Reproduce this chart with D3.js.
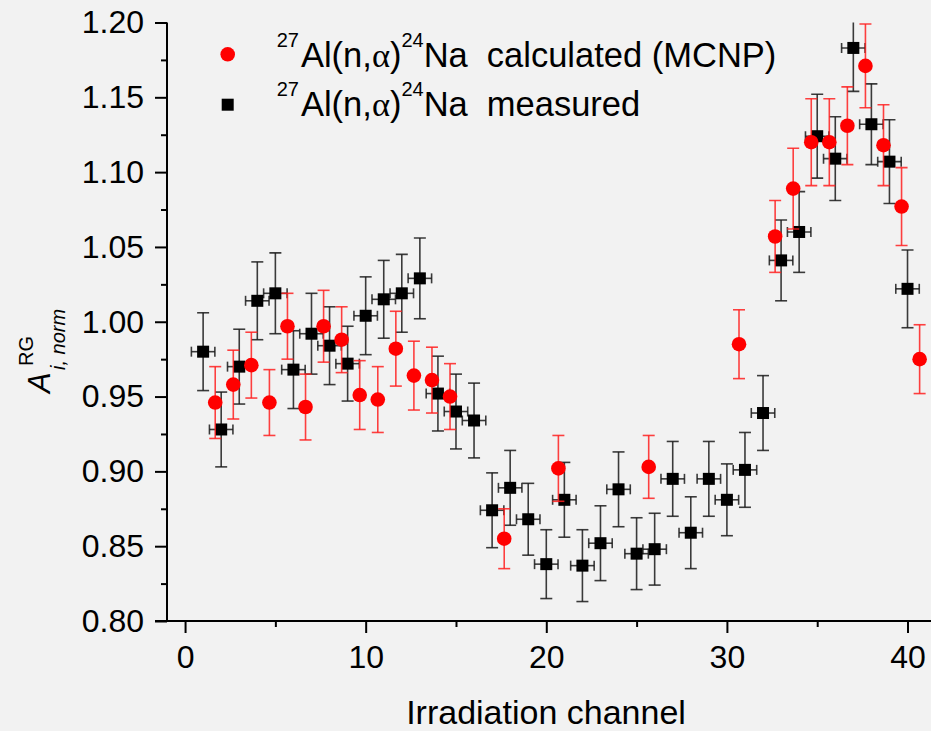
<!DOCTYPE html>
<html>
<head>
<meta charset="utf-8">
<script src="https://cdn.jsdelivr.net/npm/d3@7"></script>
<style>
  body { margin: 0; background: #f2f2f2; }
  svg { display: block; font-family: "Liberation Sans", Arial, sans-serif; }
</style>
</head>
<body>
<div id="chart"></div>
<script>
// measured 27Al(n,a)24Na activity per irradiation channel
var measCh  = [1,2,3,4,5,6,7,8,9,10,11,12,13,14,15,16,17,18,19,20,
               21,22,23,24,25,26,27,28,29,30,31,32,33,34,35,36,37,38,39,40];
var measVal = [0.980,0.928,0.970,1.014,1.019,0.968,0.992,0.984,0.972,1.004,
               1.015,1.019,1.029,0.952,0.940,0.934,0.874,0.889,0.868,0.838,
               0.881,0.837,0.852,0.888,0.845,0.848,0.895,0.859,0.895,0.881,
               0.901,0.939,1.041,1.060,1.124,1.109,1.183,1.132,1.107,1.022];
var measErr = [0.026,0.025,0.025,0.026,0.027,0.026,0.027,0.026,0.025,0.026,
               0.026,0.026,0.027,0.025,0.025,0.025,0.025,0.025,0.024,0.023,
               0.025,0.024,0.025,0.025,0.024,0.024,0.025,0.024,0.025,0.024,
               0.025,0.025,0.027,0.027,0.028,0.028,0.029,0.027,0.028,0.026];
var measXErr = 0.65;

// calculated (MCNP)
var calcCh  = [1.67,2.67,3.67,4.67,5.67,6.67,7.67,8.67,9.67,10.67,11.67,12.67,13.67,14.67,
               17.67,20.67,25.67,30.67,32.67,33.67,34.67,35.67,36.67,37.67,38.67,39.67,40.67];
var calcVal = [0.946,0.958,0.971,0.946,0.997,0.943,0.997,0.988,0.951,0.948,0.982,0.964,0.961,0.950,
               0.855,0.902,0.903,0.985,1.057,1.089,1.120,1.120,1.131,1.171,1.118,1.077,0.975];
var calcErr = [0.024,0.023,0.022,0.022,0.022,0.022,0.024,0.022,0.023,0.022,0.025,0.023,0.022,0.022,
               0.020,0.022,0.021,0.023,0.024,0.027,0.029,0.029,0.026,0.028,0.027,0.026,0.023];

var xTicks = [0,10,20,30,40];
var xMinor = [5,15,25,35];
var yTicks = [0.80,0.85,0.90,0.95,1.00,1.05,1.10,1.15,1.20];
var yMinor = [0.825,0.875,0.925,0.975,1.025,1.075,1.125,1.175];

var W = 931, H = 731;
var x = d3.scaleLinear().domain([-1, 41.3]).range([167, 931]);
var y = d3.scaleLinear().domain([0.80, 1.20]).range([621, 22.5]);

var svg = d3.select("#chart").append("svg").attr("width", W).attr("height", H);
svg.append("rect").attr("width", W).attr("height", H).attr("fill", "#f2f2f2");

svg.append("clipPath").attr("id", "plotclip").append("rect")
    .attr("x", x.range()[0]).attr("y", y.range()[1])
    .attr("width", x.range()[1] - x.range()[0])
    .attr("height", y.range()[0] - y.range()[1]);

// axes
function styleAxis(g) {
    g.select(".domain").remove();
    g.selectAll(".tick line").attr("stroke", "#000").attr("stroke-width", 2);
    g.selectAll(".tick text").attr("fill", "#000").attr("font-size", 32)
        .attr("font-family", "'Liberation Sans', Arial, sans-serif");
}
var y0 = y.range()[0];
svg.append("g").attr("transform", "translate(0," + y0 + ")")
    .call(d3.axisBottom(x).tickValues(xMinor).tickSize(6).tickFormat(""))
    .call(styleAxis);
svg.append("g").attr("transform", "translate(0," + y0 + ")")
    .call(d3.axisBottom(x).tickValues(xTicks).tickSize(12).tickPadding(12).tickFormat(d3.format("d")))
    .call(styleAxis);
var x0 = x.range()[0];
svg.append("g").attr("transform", "translate(" + x0 + ",0)")
    .call(d3.axisLeft(y).tickValues(yMinor).tickSize(6).tickFormat(""))
    .call(styleAxis);
svg.append("g").attr("transform", "translate(" + x0 + ",0)")
    .call(d3.axisLeft(y).tickValues(yTicks).tickSize(12).tickPadding(11).tickFormat(d3.format(".2f")))
    .call(styleAxis);
svg.append("line").attr("x1", x0 - 12).attr("x2", x.range()[1]).attr("y1", y0).attr("y2", y0)
    .attr("stroke", "#000").attr("stroke-width", 2);
svg.append("line").attr("x1", x0).attr("x2", x0).attr("y1", y.range()[1]).attr("y2", y0)
    .attr("stroke", "#000").attr("stroke-width", 2);

// data
var plot = svg.append("g").attr("clip-path", "url(#plotclip)");
var meas = measCh.map(function(c, i) { return {x: c, v: measVal[i], e: measErr[i]}; });
var calc = calcCh.map(function(c, i) { return {x: c, v: calcVal[i], e: calcErr[i]}; });

function errBars(g, data, color, withX) {
    var eb = g.selectAll(null).data(data).enter().append("g")
        .attr("stroke", color).attr("stroke-width", 1.6).attr("stroke-opacity", 0.85);
    eb.append("line")
        .attr("x1", function(d) { return x(d.x); }).attr("x2", function(d) { return x(d.x); })
        .attr("y1", function(d) { return y(d.v - d.e); }).attr("y2", function(d) { return y(d.v + d.e); });
    [-1, 1].forEach(function(s) {
        eb.append("line")
            .attr("x1", function(d) { return x(d.x) - 6; }).attr("x2", function(d) { return x(d.x) + 6; })
            .attr("y1", function(d) { return y(d.v + s * d.e); }).attr("y2", function(d) { return y(d.v + s * d.e); });
    });
    if (!withX) return;
    eb.append("line")
        .attr("x1", function(d) { return x(d.x - measXErr); }).attr("x2", function(d) { return x(d.x + measXErr); })
        .attr("y1", function(d) { return y(d.v); }).attr("y2", function(d) { return y(d.v); });
    [-1, 1].forEach(function(s) {
        eb.append("line")
            .attr("x1", function(d) { return x(d.x + s * measXErr); }).attr("x2", function(d) { return x(d.x + s * measXErr); })
            .attr("y1", function(d) { return y(d.v) - 5; }).attr("y2", function(d) { return y(d.v) + 5; });
    });
}

errBars(plot, meas, "#1a1a1a", true);
plot.selectAll("rect.meas").data(meas).enter().append("rect").attr("class", "meas")
    .attr("x", function(d) { return x(d.x) - 6; }).attr("y", function(d) { return y(d.v) - 6; })
    .attr("width", 12).attr("height", 12).attr("fill", "#000");

errBars(plot, calc, "#ff2020", false);
plot.selectAll("circle.calc").data(calc).enter().append("circle").attr("class", "calc")
    .attr("cx", function(d) { return x(d.x); }).attr("cy", function(d) { return y(d.v); })
    .attr("r", 7.3).attr("fill", "#ff0000");

// legend
var leg = svg.append("g");
leg.append("circle").attr("cx", 227.7).attr("cy", 54.3).attr("r", 7.3).attr("fill", "#ff0000");
leg.append("rect").attr("x", 221.7).attr("y", 98.7).attr("width", 12).attr("height", 12).attr("fill", "#000");

function reaction(t, tail) {
    t.append("tspan").attr("font-size", 20).attr("dy", -20).text("27");
    t.append("tspan").attr("font-size", 34.5).attr("dy", 20).attr("dx", 2).text("Al(n,");
    t.append("tspan").attr("font-size", 34.5).attr("font-family", "'Liberation Serif', serif").text("\u03b1");
    t.append("tspan").attr("font-size", 34.5).text(")");
    t.append("tspan").attr("font-size", 20).attr("dy", -20).text("24");
    t.append("tspan").attr("font-size", 34.5).attr("dy", 20).text("Na");
    t.append("tspan").attr("font-size", 34.5).attr("dx", 19).text(tail);
}
reaction(leg.append("text").attr("x", 276.7).attr("y", 66.7), "calculated (MCNP)");
reaction(leg.append("text").attr("x", 276.7).attr("y", 115.7), "measured");

// axis titles
svg.append("text").attr("x", 546).attr("y", 724).attr("text-anchor", "middle")
    .attr("font-size", 34).text("Irradiation channel");

var yt = svg.append("g").attr("transform", "translate(50,393) rotate(-90)");
yt.append("text").attr("font-size", 31).attr("font-style", "italic").text("A");
yt.append("text").attr("x", 27).attr("y", -17).attr("font-size", 20).text("RG");
yt.append("text").attr("x", 23).attr("y", 15).attr("font-size", 20).attr("font-style", "italic").text("i, norm");
</script>
</body>
</html>
